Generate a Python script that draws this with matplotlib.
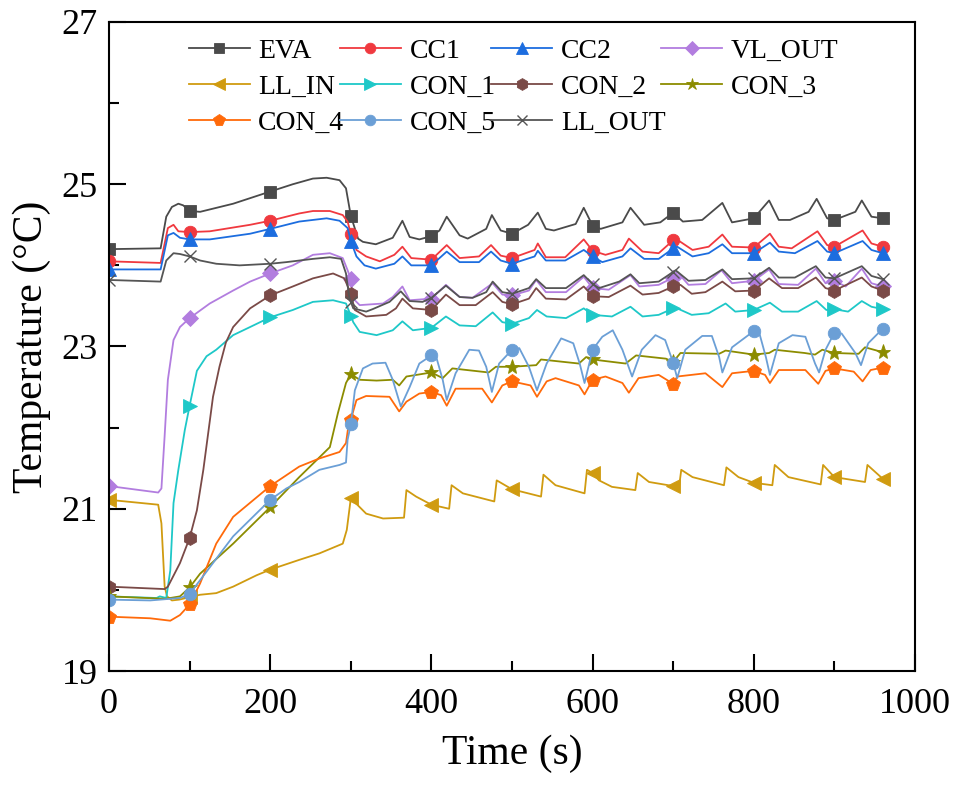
import numpy as np
import matplotlib
matplotlib.use("Agg")
import matplotlib.pyplot as plt
from matplotlib.ticker import MultipleLocator, FixedLocator

plt.rcParams['font.family'] = ['Liberation Serif', 'DejaVu Serif']

# marker positions (s)
marker_times = [0, 100, 200, 300, 400, 500, 600, 700, 800, 900, 960]

# ---- data (time in s, temperature in degC) ----
eva_t = [0, 64, 71, 78, 86, 92, 100, 113, 154, 200, 228, 253, 270, 286, 294, 300,
         309, 315, 331, 352, 364, 373, 385, 400, 410, 419, 435, 445, 468, 475, 486, 500,
         520, 532, 542, 552, 579, 589, 600, 610, 637, 647, 664, 684, 700, 712, 736, 761,
         773, 800, 819, 831, 845, 868, 878, 891, 900, 926, 934, 946, 960]
eva = [24.20, 24.21, 24.60, 24.72, 24.76, 24.74, 24.67, 24.66, 24.76, 24.91, 25.00, 25.07, 25.08, 25.05, 24.95, 24.61,
       24.33, 24.29, 24.26, 24.34, 24.55, 24.35, 24.32, 24.36, 24.43, 24.60, 24.37, 24.33, 24.45, 24.62, 24.43, 24.39,
       24.50, 24.65, 24.45, 24.43, 24.51, 24.71, 24.49, 24.45, 24.53, 24.71, 24.50, 24.53, 24.65, 24.54, 24.56, 24.77,
       24.53, 24.58, 24.80, 24.56, 24.56, 24.66, 24.82, 24.58, 24.56, 24.66, 24.80, 24.60, 24.58]

cc1_t = [0, 64, 73, 80, 86, 100, 125, 175, 200, 236, 253, 274, 290, 296, 300, 307, 319, 336, 354, 364,
         375, 400, 419, 435, 459, 474, 486, 500, 528, 532, 542, 566, 589, 600, 616, 637, 645, 662, 682,
         700, 703, 724, 744, 761, 773, 800, 820, 831, 847, 879, 891, 900, 935, 946, 960]
cc1 = [24.05, 24.03, 24.46, 24.50, 24.42, 24.41, 24.42, 24.50, 24.55, 24.64, 24.67, 24.67, 24.62, 24.54, 24.39,
       24.19, 24.11, 24.05, 24.13, 24.23, 24.09, 24.07, 24.25, 24.09, 24.11, 24.25, 24.12, 24.09, 24.19, 24.27,
       24.10, 24.10, 24.32, 24.18, 24.13, 24.19, 24.33, 24.17, 24.15, 24.31, 24.33, 24.19, 24.23, 24.38, 24.23,
       24.22, 24.39, 24.23, 24.21, 24.42, 24.25, 24.23, 24.43, 24.27, 24.23]

cc2_t = [0, 64, 73, 80, 88, 100, 125, 175, 200, 236, 270, 286, 296, 300, 307, 317, 331, 354, 364, 375,
         400, 419, 435, 459, 474, 486, 500, 528, 532, 542, 566, 589, 600, 612, 637, 647, 664, 682, 700,
         705, 724, 744, 761, 773, 800, 820, 831, 851, 879, 891, 900, 935, 946, 960]
cc2 = [23.95, 23.95, 24.37, 24.40, 24.34, 24.32, 24.32, 24.39, 24.45, 24.54, 24.58, 24.55, 24.46, 24.30,
       24.11, 24.00, 23.96, 24.02, 24.11, 24.00, 24.00, 24.17, 24.04, 24.04, 24.17, 24.06, 24.02, 24.11,
       24.18, 24.06, 24.06, 24.19, 24.11, 24.04, 24.11, 24.21, 24.08, 24.08, 24.21, 24.23, 24.11, 24.15,
       24.26, 24.15, 24.15, 24.28, 24.17, 24.15, 24.30, 24.17, 24.15, 24.30, 24.19, 24.15]

vl_out_t = [0, 61, 65, 69, 73, 80, 88, 100, 125, 154, 175, 200, 228, 253, 274, 290, 296, 300, 303, 311,
            340, 352, 364, 373, 400, 418, 435, 451, 476, 488, 500, 521, 530, 542, 567, 589, 600, 620, 647,
            658, 682, 700, 705, 719, 740, 760, 773, 800, 819, 831, 855, 877, 889, 900, 914, 934, 946, 960]
vl_out = [21.28, 21.20, 21.25, 21.90, 22.59, 23.08, 23.24, 23.35, 23.53, 23.69, 23.80, 23.90, 24.00, 24.13,
          24.15, 24.09, 23.94, 23.83, 23.59, 23.51, 23.53, 23.61, 23.74, 23.57, 23.59, 23.76, 23.61, 23.60,
          23.78, 23.64, 23.63, 23.69, 23.82, 23.67, 23.67, 23.86, 23.72, 23.70, 23.88, 23.74, 23.76, 23.85,
          23.92, 23.76, 23.77, 23.94, 23.78, 23.81, 23.95, 23.77, 23.76, 23.96, 23.78, 23.81, 23.74, 23.96,
          23.78, 23.74]

ll_in_t = [0, 51, 61, 65, 69, 72, 78, 87, 100, 113, 133, 154, 183, 200, 236, 261, 290, 295, 300, 319, 340,
           366, 369, 381, 400, 422, 425, 439, 478, 481, 500, 536, 539, 554, 590, 593, 600, 608, 624, 653,
           656, 670, 700, 707, 710, 724, 763, 766, 781, 800, 823, 826, 843, 883, 886, 900, 938, 941, 960]
ll_in = [21.11, 21.06, 21.05, 20.82, 20.04, 19.92, 19.87, 19.88, 19.91, 19.94, 19.96, 20.04, 20.18, 20.25,
         20.37, 20.45, 20.57, 20.74, 21.13, 20.94, 20.88, 20.89, 21.23, 21.15, 21.05, 21.00, 21.29, 21.19,
         21.09, 21.35, 21.24, 21.15, 21.42, 21.29, 21.19, 21.48, 21.44, 21.35, 21.27, 21.23, 21.44, 21.33,
         21.28, 21.25, 21.48, 21.39, 21.29, 21.51, 21.39, 21.32, 21.29, 21.54, 21.39, 21.30, 21.54, 21.39,
         21.33, 21.54, 21.37]

con1_t = [0, 59, 63, 71, 76, 80, 86, 94, 100, 109, 121, 133, 154, 175, 200, 228, 253, 278, 294, 300, 303,
          311, 332, 352, 364, 377, 400, 418, 435, 455, 476, 488, 500, 521, 531, 543, 567, 589, 600, 624,
          647, 662, 682, 700, 705, 723, 744, 765, 777, 800, 820, 835, 855, 878, 890, 900, 917, 934, 946, 960]
con1 = [19.92, 19.90, 19.92, 19.90, 20.24, 21.07, 21.48, 21.97, 22.27, 22.70, 22.88, 22.96, 23.14, 23.24,
        23.36, 23.45, 23.55, 23.57, 23.53, 23.38, 23.30, 23.18, 23.14, 23.20, 23.31, 23.20, 23.23, 23.37,
        23.26, 23.25, 23.42, 23.30, 23.28, 23.35, 23.45, 23.37, 23.35, 23.47, 23.39, 23.37, 23.49, 23.37,
        23.39, 23.47, 23.47, 23.39, 23.41, 23.53, 23.43, 23.45, 23.54, 23.43, 23.43, 23.56, 23.45, 23.46,
        23.43, 23.56, 23.49, 23.46]

con2_t = [0, 69, 73, 88, 100, 109, 117, 129, 137, 145, 154, 175, 200, 228, 253, 278, 292, 300, 305, 319,
          344, 356, 364, 377, 400, 418, 435, 455, 476, 488, 500, 521, 530, 542, 567, 589, 600, 620, 647,
          662, 682, 700, 709, 723, 740, 761, 777, 800, 819, 835, 855, 877, 889, 900, 934, 946, 960]
con2 = [20.04, 20.01, 20.04, 20.33, 20.64, 20.98, 21.48, 22.38, 22.75, 23.05, 23.24, 23.47, 23.63, 23.74,
        23.84, 23.90, 23.84, 23.65, 23.45, 23.37, 23.39, 23.47, 23.59, 23.47, 23.45, 23.64, 23.51, 23.51,
        23.67, 23.55, 23.52, 23.59, 23.72, 23.59, 23.58, 23.74, 23.62, 23.61, 23.75, 23.64, 23.66, 23.74,
        23.76, 23.65, 23.67, 23.80, 23.68, 23.69, 23.84, 23.72, 23.72, 23.85, 23.72, 23.69, 23.85, 23.74,
        23.69]

con3_t = [0, 70, 88, 100, 113, 154, 200, 236, 274, 284, 294, 300, 311, 332, 352, 360, 369, 400, 414, 426,
          471, 480, 500, 530, 536, 583, 592, 600, 608, 641, 654, 691, 700, 709, 757, 765, 800, 819, 826,
          863, 876, 885, 900, 930, 938, 960]
con3 = [19.92, 19.89, 19.92, 20.03, 20.20, 20.57, 21.02, 21.39, 21.76, 22.18, 22.55, 22.66, 22.59, 22.58,
        22.59, 22.52, 22.63, 22.68, 22.61, 22.73, 22.68, 22.75, 22.75, 22.77, 22.84, 22.79, 22.87, 22.85,
        22.83, 22.79, 22.89, 22.85, 22.81, 22.92, 22.91, 22.95, 22.90, 22.92, 22.96, 22.92, 22.90, 22.96,
        22.92, 22.91, 22.99, 22.93]

con4_t = [0, 51, 76, 88, 100, 113, 133, 154, 200, 236, 261, 286, 294, 298, 300, 307, 319, 348, 360, 369,
          385, 400, 412, 419, 430, 463, 475, 488, 500, 523, 531, 543, 554, 583, 590, 600, 616, 637, 645,
          657, 682, 700, 705, 740, 761, 773, 800, 814, 820, 831, 864, 880, 889, 900, 924, 935, 945, 960]
con4 = [19.67, 19.65, 19.62, 19.69, 19.82, 20.08, 20.57, 20.90, 21.28, 21.52, 21.62, 21.70, 21.81, 22.09,
        22.10, 22.34, 22.39, 22.38, 22.20, 22.32, 22.42, 22.44, 22.40, 22.27, 22.48, 22.48, 22.31, 22.52,
        22.57, 22.52, 22.38, 22.57, 22.61, 22.52, 22.41, 22.59, 22.63, 22.55, 22.43, 22.61, 22.65, 22.54,
        22.63, 22.67, 22.50, 22.67, 22.70, 22.65, 22.55, 22.71, 22.71, 22.54, 22.70, 22.73, 22.69, 22.57,
        22.71, 22.74]

con5_t = [0, 51, 88, 100, 113, 154, 200, 220, 236, 261, 286, 294, 296, 300, 305, 315, 327, 343, 352, 362,
          373, 385, 400, 406, 414, 419, 430, 447, 459, 468, 475, 484, 500, 509, 521, 531, 543, 561, 576,
          584, 590, 600, 612, 625, 637, 649, 661, 678, 690, 700, 705, 715, 736, 748, 757, 761, 773, 800,
          807, 815, 820, 831, 848, 864, 876, 881, 889, 900, 909, 926, 933, 942, 960]
con5 = [19.88, 19.87, 19.90, 19.95, 20.12, 20.66, 21.11, 21.25, 21.33, 21.48, 21.54, 21.57, 21.85, 22.04,
        22.46, 22.73, 22.79, 22.80, 22.59, 22.26, 22.50, 22.79, 22.89, 22.87, 22.59, 22.34, 22.67, 22.96,
        22.95, 22.75, 22.44, 22.79, 22.96, 22.98, 22.75, 22.46, 22.79, 23.10, 23.04, 22.79, 22.55, 22.96,
        23.12, 23.20, 22.96, 22.63, 22.96, 23.14, 23.08, 22.80, 22.61, 22.96, 23.13, 23.13, 22.87, 22.68,
        22.99, 23.19, 23.16, 22.87, 22.65, 23.04, 23.14, 23.12, 22.79, 22.68, 22.96, 23.17, 23.16, 22.92,
        22.77, 23.04, 23.22]

ll_out_t = [0, 64, 71, 80, 88, 100, 113, 133, 162, 200, 220, 253, 274, 288, 294, 298, 300, 303, 319, 327,
            348, 362, 373, 389, 400, 418, 435, 451, 468, 476, 488, 500, 521, 530, 542, 567, 589, 600, 608,
            633, 647, 658, 682, 700, 703, 719, 740, 761, 773, 800, 819, 831, 851, 877, 889, 900, 934, 946, 960]
ll_out = [23.82, 23.80, 24.06, 24.15, 24.14, 24.11, 24.06, 24.02, 24.00, 24.02, 24.04, 24.08, 24.10, 24.08,
          23.90, 23.61, 23.55, 23.47, 23.43, 23.46, 23.55, 23.68, 23.56, 23.55, 23.60, 23.75, 23.61, 23.60,
          23.67, 23.80, 23.67, 23.65, 23.72, 23.83, 23.72, 23.72, 23.88, 23.77, 23.72, 23.80, 23.89, 23.78,
          23.80, 23.92, 23.94, 23.81, 23.82, 23.95, 23.83, 23.84, 23.97, 23.85, 23.85, 23.99, 23.85, 23.84,
          23.99, 23.87, 23.83]

x_ticks = [0, 200, 400, 600, 800, 1000]
y_ticks = [19, 21, 23, 25, 27]

# (label, t, T, color, marker, markersize)
series = [
    ("EVA", eva_t, eva, "#4a4a4a", "s", 8),
    ("CC1", cc1_t, cc1, "#f0393f", "o", 9),
    ("CC2", cc2_t, cc2, "#1c6ddf", "^", 10),
    ("VL_OUT", vl_out_t, vl_out, "#b27ddf", "D", 8),
    ("LL_IN", ll_in_t, ll_in, "#d09b10", "<", 10),
    ("CON_1", con1_t, con1, "#1ec8c8", ">", 10),
    ("CON_2", con2_t, con2, "#7a4a47", "h", 10),
    ("CON_3", con3_t, con3, "#8c8c00", "*", 11),
    ("CON_4", con4_t, con4, "#ff6a0a", "p", 10),
    ("CON_5", con5_t, con5, "#6b9fd6", "o", 9),
    ("LL_OUT", ll_out_t, ll_out, "#555555", "x", 9),
]

fig = plt.figure(figsize=(9.59, 7.85), dpi=100)
ax = fig.add_axes([0.1137, 0.1452, 0.8404, 0.8268])

handles = {}
for label, t, T, color, mk, ms in series:
    t = np.array(t)
    idx = list(np.where(np.isin(t, marker_times))[0])
    if mk == "x":
        line, = ax.plot(t, T, color=color, lw=1.3, marker=mk, ms=ms, mew=1.0,
                        markevery=idx, label=label)
    else:
        line, = ax.plot(t, T, color=color, lw=1.3, marker=mk, ms=ms, mew=0.6,
                        mec=color, markevery=idx, label=label)
    handles[label] = line

ax.set_xlim(0, 1000)
ax.set_ylim(19, 27)
ax.set_xticks(x_ticks)
ax.set_yticks(y_ticks)
ax.xaxis.set_minor_locator(MultipleLocator(100))
ax.yaxis.set_minor_locator(FixedLocator([20, 22, 24, 26]))
ax.tick_params(which='both', direction='in', top=False, right=False, labelsize=26, width=1.5)
ax.tick_params(which='major', length=12)
ax.tick_params(which='minor', length=7)
ax.tick_params(axis='x', which='major', pad=12)
ax.tick_params(axis='y', which='major', pad=8)
for sp in ax.spines.values():
    sp.set_linewidth(1.5)

ax.set_xlabel("Time (s)", fontsize=30, labelpad=10)
ax.set_ylabel("Temperature (\u00b0C)", fontsize=30, labelpad=8)

# legend filled row by row (matplotlib fills columns first)
order = ["EVA", "LL_IN", "CON_4", "CC1", "CON_1", "CON_5", "CC2", "CON_2", "LL_OUT", "VL_OUT", "CON_3"]
ax.legend([handles[k] for k in order], order, ncol=4, loc='upper left',
          bbox_to_anchor=(0.085, 0.992), frameon=False, fontsize=20,
          handlelength=2.2, handletextpad=0.3, columnspacing=-0.15,
          labelspacing=0.38, borderaxespad=0.0, markerscale=0.85)

fig.savefig("out.png", dpi=100)
